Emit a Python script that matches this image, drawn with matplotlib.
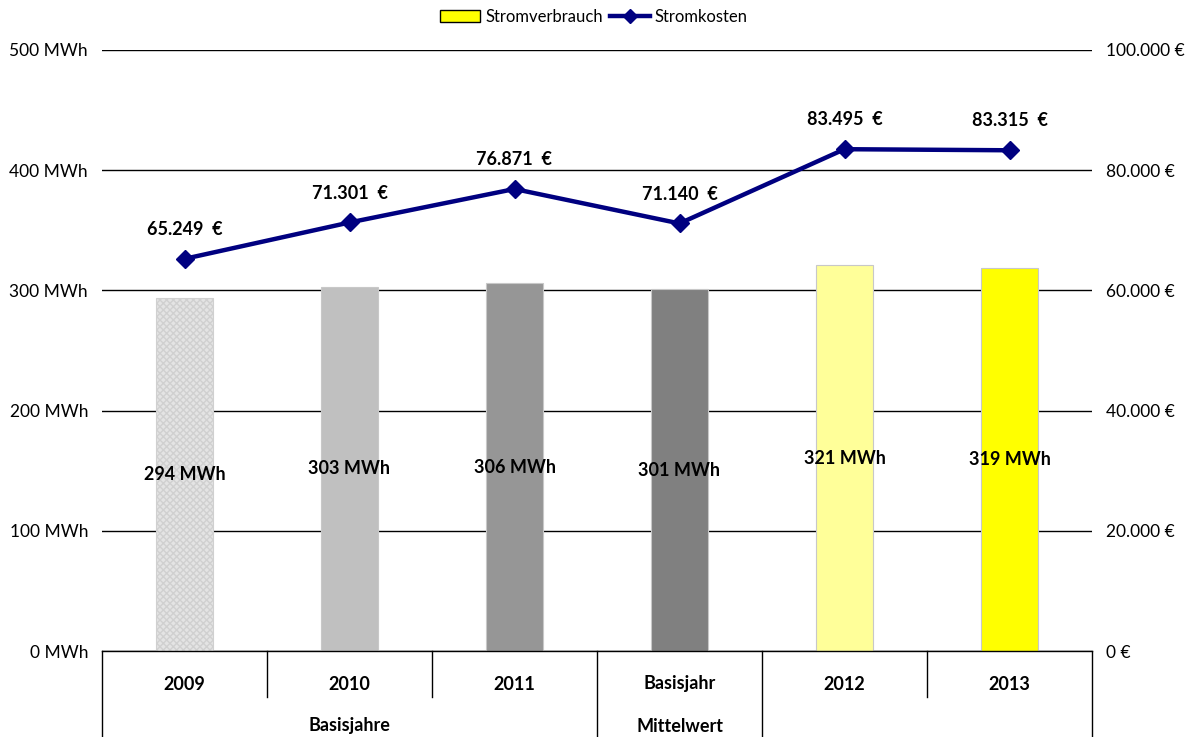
import numpy as np
import matplotlib.pyplot as plt
from matplotlib.patches import Patch
from matplotlib.lines import Line2D

plt.rcParams['font.family'] = ['Lato', 'DejaVu Sans']

# --- data ---
years = ["2009", "2010", "2011", "Basisjahr", "2012", "2013"]
verbrauch = [294, 303, 306, 301, 321, 319]            # MWh
kosten = [65249, 71301, 76871, 71140, 83495, 83315]   # EUR
bar_colors = ["#e4e4e4", "#c0c0c0", "#969696", "#808080", "#ffff99", "#ffff00"]
groups = [("Basisjahre", 0, 3), ("Mittelwert", 3, 4)]

def de_num(v):
    return f"{v:,.0f}".replace(",", ".")

fig = plt.figure(figsize=(11.96, 7.37), dpi=100)
ax = fig.add_axes([102/1196, 1 - 651/737, 990/1196, 601/737])
ax2 = ax.twinx()

x = np.arange(len(years))
bars = ax.bar(x, verbrauch, width=0.34, color=bar_colors, edgecolor="#c8c8c8",
              linewidth=0.8, zorder=2)
bars[0].set_hatch("xxxxx")
bars[0].set_edgecolor("#d0d0d0")

for xi, v in zip(x, verbrauch):
    ax.text(xi, v / 2, f"{v} MWh", ha="center", va="center",
            fontsize=13, fontweight="bold", zorder=3)

ax.set_xlim(-0.5, len(years) - 0.5)
ax.set_ylim(0, 500)
ax.set_yticks(range(0, 501, 100))
ax.set_yticklabels([f"{v} MWh" for v in range(0, 501, 100)], fontsize=12.5)
ax.grid(axis="y", color="black", linewidth=1, zorder=0)
ax.set_axisbelow(True)
ax.tick_params(axis="y", length=0, pad=10)
ax.set_xticks([])
for s in ["left", "right", "top", "bottom"]:
    ax.spines[s].set_visible(False)
    ax2.spines[s].set_visible(False)

ax2.plot(x, kosten, color="#000080", linewidth=3.2, marker="D", markersize=9,
         zorder=4)
for xi, v in zip(x, kosten):
    ax2.annotate(f"{de_num(v)}  €", (xi, v), xytext=(0, 15), textcoords="offset points",
                 ha="center", va="bottom", fontsize=13, fontweight="bold")
ax2.set_ylim(0, 100000)
ax2.set_yticks(range(0, 100001, 20000))
ax2.set_yticklabels([f"{de_num(v)} €" for v in range(0, 100001, 20000)], fontsize=12.5)
ax2.tick_params(axis="y", length=0, pad=10)

# multi-level category axis
bottom = -86 / 601  # axes fraction down to image bottom
mid = -46 / 601
kw = dict(transform=ax.transAxes, color="black", linewidth=1, clip_on=False)
n = len(years)
ax.plot([0, 1], [0, 0], **kw)
for i in range(n + 1):
    xf = i / n
    full = i in (0, 3, 4, n)
    ax.plot([xf, xf], [0, bottom if full else mid], **kw)
for i, lab in enumerate(years):
    ax.text((i + 0.5) / n, -33 / 601, lab, transform=ax.transAxes, ha="center",
            va="center", fontsize=13, fontweight="bold")
for lab, a, b in groups:
    ax.text((a + b) / 2 / n, -75 / 601, lab, transform=ax.transAxes, ha="center",
            va="center", fontsize=13, fontweight="bold")

handles = [Patch(facecolor="#ffff00", edgecolor="black", linewidth=1),
           Line2D([], [], color="#000080", linewidth=3.2, marker="D", markersize=7)]
fig.legend(handles, ["Stromverbrauch", "Stromkosten"], loc="center",
           bbox_to_anchor=(594/1196, 1 - 17/737), ncol=2, frameon=False,
           fontsize=12, handlelength=2.4, handletextpad=0.3, columnspacing=0.4)

fig.savefig("out.png", dpi=100)
